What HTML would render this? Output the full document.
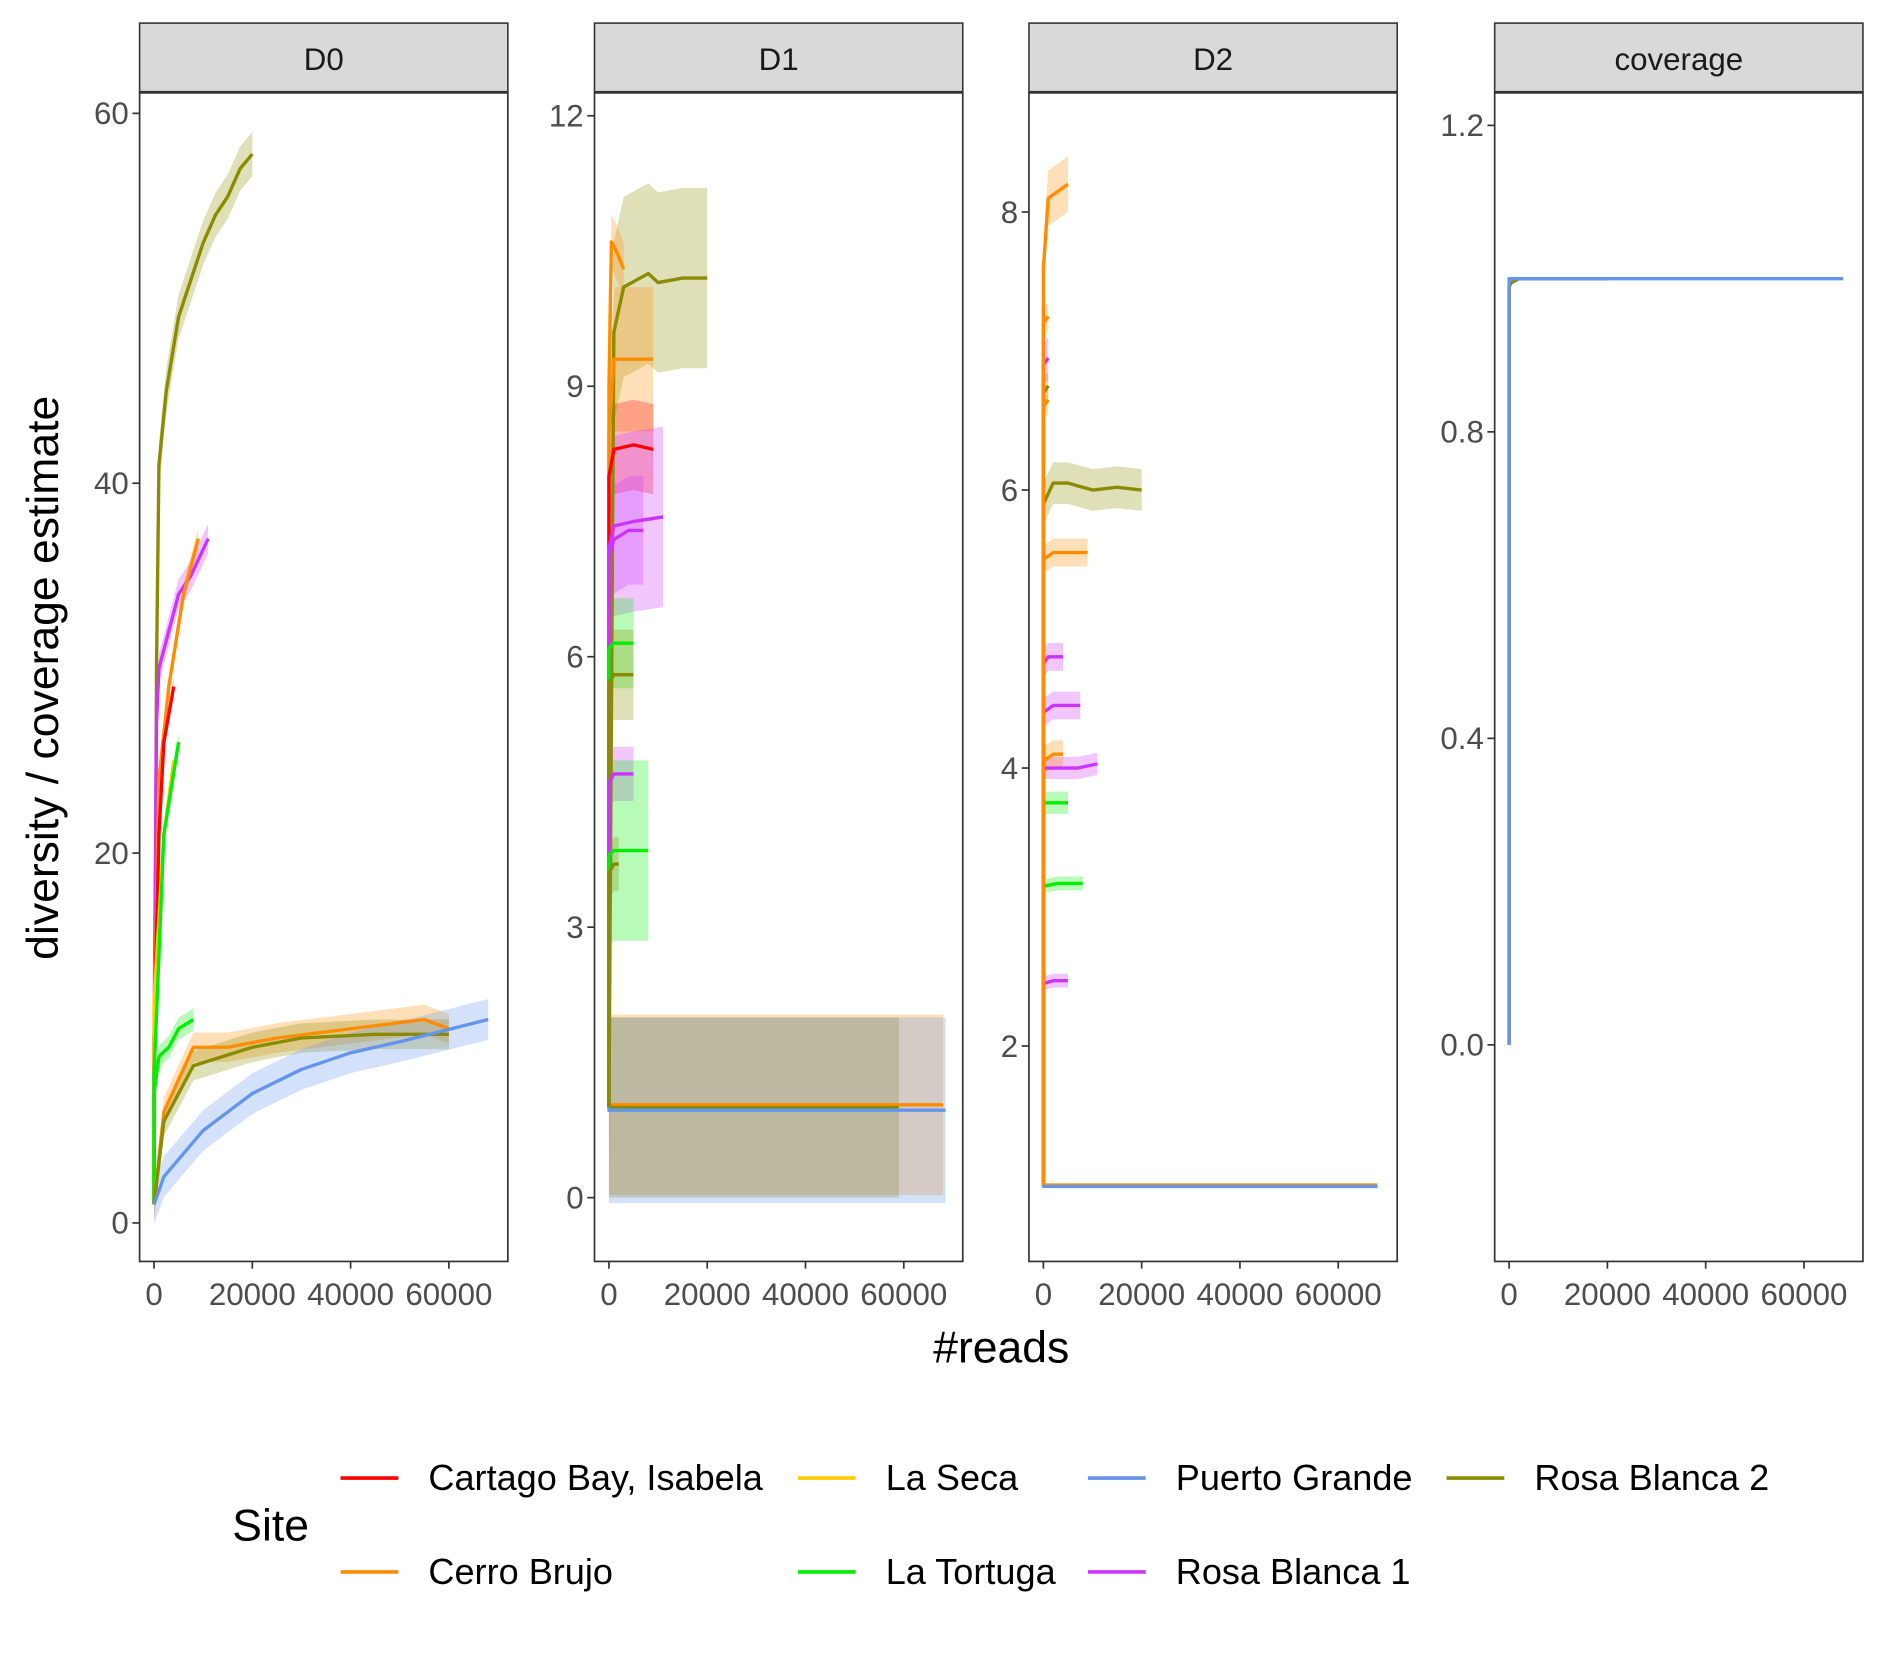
<!DOCTYPE html>
<html><head><meta charset="utf-8"><style>
html,body{margin:0;padding:0;background:#fff;}
svg{display:block;font-family:"Liberation Sans",sans-serif;}
</style></head><body>
<svg id="chart" width="1887" height="1654" viewBox="0 0 1568 1374" xmlns="http://www.w3.org/2000/svg">
<rect width="1568" height="1374" fill="#fff"/>
<text transform="translate(48,563) rotate(-90)" text-anchor="middle" font-size="37" fill="#000">diversity / coverage estimate</text>
<text x="832" y="1132" text-anchor="middle" font-size="37" fill="#000">#reads</text>
<g id="legend">
<text x="193" y="1280" font-size="37">Site</text>
</g>
</svg>
<script>
const sites = ["Cartago Bay, Isabela","Cerro Brujo","La Seca","La Tortuga","Puerto Grande","Rosa Blanca 1","Rosa Blanca 2"];
const colors = ["#ff0000","#ff8c00","#ffcc00","#00ee00","#6495ed","#cc33ff","#8b8b00"];
const panelNames = ["D0","D1","D2","coverage"];
const xTicks = [0,20000,40000,60000];
const yTicksD0 = [0,20,40,60];
const yTicksD1 = [0,3,6,9,12];
const yTicksD2 = [2,4,6,8];
const yTicksCov = [0.0,0.4,0.8,1.2];
const d0Series = [
 [6,[0,500,1000,2500,5000,7500,10000,12500,15000,17500,20000],[1,30,41,45,49,51,53,54.5,55.5,57,57.8],1.2],
 [5,[0,500,1000,2500,5000,7500,11000],[10,27,30,31.5,34,35,37],0.8],
 [1,[0,1000,3000,6000,9000],[10,24,29,34,37],0.6],
 [0,[0,1000,2000,4000],[10,21,26,29],0.5],
 [2,[0,2000,4000],[12,21,25],0.5],
 [3,[0,2000,5000],[8,21,26],0.5],
 [3,[0,1000,3000,5000,8000],[7,9,9.5,10.5,11],0.6],
 [1,[0,2000,8000,15000,25000,40000,55000,60000],[1,6,9.5,9.5,10,10.5,11,10.5],0.8],
 [6,[0,2000,8000,20000,30000,45000,60000],[1,5.5,8.5,9.5,10,10.2,10.2],0.8],
 [4,[0,2000,10000,20000,30000,40000,50000,68000],[1,2.5,5,7,8.3,9.2,9.8,11],1.1]
];
const d1Series = [
 [1,[0,68000],[1.03,1.03],1.0],
 [6,[0,59000],[1.0,1.0],1.0],
 [4,[0,68500],[0.97,0.97],1.03],
 [6,[0,1000,3000,8000,10000,15000,20000],[1,9.6,10.1,10.25,10.15,10.2,10.2],1.0],
 [1,[0,500,1500,3000],[9,10.6,10.5,10.3],0.3],
 [1,[0,1000,5000,9000],[8.5,9.3,9.3,9.3],0.8],
 [0,[0,1000,5000,9000],[8,8.3,8.35,8.3],0.5],
 [5,[0,1000,5000,11000],[7.2,7.45,7.5,7.55],1.0],
 [5,[0,1000,4000,7000],[7.1,7.3,7.4,7.4],0.6],
 [3,[0,1000,5000],[6.1,6.15,6.15],0.5],
 [6,[0,1000,3000,5000],[5.7,5.8,5.8,5.8],0.5],
 [5,[0,1000,5000],[4.6,4.7,4.7],0.3],
 [3,[0,1000,8000],[3.8,3.85,3.85],1.0],
 [6,[0,1000,2000],[3.6,3.7,3.7],0.3]
];
const d2Series = [
 [1,[0,68000],[1.0,1.0],0.0],
 [4,[0,68000],[0.99,0.99],0.0],
 [1,[0,1000,3000,5000],[7.6,8.1,8.15,8.2],0.2],
 [6,[0,2000,5000,10000,15000,20000],[5.9,6.05,6.05,6.0,6.02,6.0],0.15],
 [1,[0,2000,5000,9000],[5.5,5.55,5.55,5.55],0.1],
 [5,[0,1000,4000],[4.75,4.8,4.8],0.1],
 [5,[0,2000,5000,7500],[4.4,4.45,4.45,4.45],0.1],
 [5,[0,3000,7000,11000],[4.0,4.0,4.0,4.03],0.08],
 [1,[0,2000,4000],[4.05,4.1,4.1],0.1],
 [3,[0,2000,5000],[3.75,3.75,3.75],0.08],
 [3,[0,3000,8000],[3.15,3.17,3.17],0.05],
 [5,[0,2000,5000],[2.45,2.47,2.47],0.05],
 [5,[0,1000],[6.9,6.95],0.15],
 [6,[0,1000],[6.7,6.75],0.1],
 [1,[0,1000],[6.6,6.65],0.1],
 [1,[0,1000],[7.2,7.25],0.1]
];
const covSeries = [
 [1,[0,500,2000,20000],[0.99,0.995,1.0,1.0],0.0],
 [6,[0,500,2000,20000],[0.99,0.995,1.0,1.0],0.0],
 [4,[0,68000],[1.0,1.0],0.0]
];
const NS="http://www.w3.org/2000/svg";
const svg=document.getElementById('chart');
function mk(tag,attrs,parent){const e=document.createElementNS(NS,tag);for(const k in attrs)e.setAttribute(k,attrs[k]);(parent||svg).appendChild(e);return e;}
const panels=[
 {name:"D0",x0:116,x1:422,y0:77,y1:1048,ymin:0,ymax:60,yA:1016,yB:94,ticks:yTicksD0,series:d0Series,fmt:v=>String(v)},
 {name:"D1",x0:494,x1:800,y0:77,y1:1048,ymin:0,ymax:12,yA:995,yB:96,ticks:yTicksD1,series:d1Series,fmt:v=>String(v)},
 {name:"D2",x0:855,x1:1161,y0:77,y1:1048,ymin:2,ymax:8,yA:869,yB:176,ticks:yTicksD2,series:d2Series,fmt:v=>String(v)},
 {name:"coverage",x0:1242,x1:1548,y0:77,y1:1048,ymin:0,ymax:1.2,yA:868,yB:104,ticks:yTicksCov,series:covSeries,fmt:v=>v.toFixed(1)}
];
panels.forEach((p,pi)=>{
 const g=mk('g',{});
 
 
 const xs=v=>p.x0+12+v*(245/60000);
 const ys=v=>p.yA+(v-p.ymin)*(p.yB-p.yA)/(p.ymax-p.ymin);
 const strip=mk('rect',{x:p.x0,y:19,width:p.x1-p.x0,height:57,fill:'#d9d9d9',stroke:'#333','stroke-width':1.3},g);
 
 
 const st=mk('text',{x:(p.x0+p.x1)/2,y:58,'text-anchor':'middle','font-size':26,fill:'#1a1a1a'},g);st.textContent=p.name;
 
 
 const clipId='clip'+pi;
 const cp=mk('clipPath',{id:clipId},g);mk('rect',{x:p.x0,y:p.y0,width:p.x1-p.x0,height:p.y1-p.y0},cp);
 const data=mk('g',{'clip-path':'url(#'+clipId+')'},g);
 p.series.forEach(s=>{
  const [si,xv,yv,hw]=s;const c=colors[si];
  if(hw>0){
   let d='';xv.forEach((x,i)=>{d+=(i?'L':'M')+xs(x)+','+ys(yv[i]+hw);});
   for(let i=xv.length-1;i>=0;i--)d+='L'+xs(xv[i])+','+ys(yv[i]-hw);
   const r=mk('path',{d:d+'Z',fill:c,'fill-opacity':0.28},data);
   
   
  }
 });
 p.series.forEach(s=>{
  const [si,xv,yv]=s;const c=colors[si];
  let d='M'+xs(0)+','+ys(p.name==='coverage'?0:1);
  xv.forEach((x,i)=>{d+='L'+xs(x)+','+ys(yv[i]);});
  const l=mk('path',{d:d,fill:'none',stroke:c,'stroke-width':2.8,'stroke-linejoin':'round'},data);
  
  
 });
 const fr=mk('rect',{x:p.x0,y:p.y0,width:p.x1-p.x0,height:p.y1-p.y0,fill:'none',stroke:'#333','stroke-width':1.4},g);
 
 
 p.ticks.forEach(t=>{
  const y=ys(t);
  mk('line',{x1:p.x0-6,x2:p.x0,y1:y,y2:y,stroke:'#333','stroke-width':1.4},g);
  const tl=mk('text',{x:p.x0-9,y:y+9,'text-anchor':'end','font-size':26,fill:'#4d4d4d'},g);tl.textContent=p.fmt(t);
  
  
 });
 xTicks.forEach(t=>{
  const x=xs(t);
  mk('line',{x1:x,x2:x,y1:p.y1,y2:p.y1+6,stroke:'#333','stroke-width':1.4},g);
  const tl=mk('text',{x:x,y:p.y1+36,'text-anchor':'middle','font-size':26,fill:'#4d4d4d'},g);tl.textContent=String(t);
  
  
 });
});
const lg=document.getElementById('legend');
const legX=[283,663,904,1202],legY=[1228,1306];
sites.forEach((s,i)=>{
 const col=Math.floor(i/2),row=i%2;
 const e=mk('g',{},lg);
 
 
 mk('line',{x1:legX[col],x2:legX[col]+48,y1:legY[row],y2:legY[row],stroke:colors[i],'stroke-width':3},e);
 const t=mk('text',{x:legX[col]+73,y:legY[row]+10,'font-size':30,fill:'#000'},e);t.textContent=s;
});
</script>
</body></html>
